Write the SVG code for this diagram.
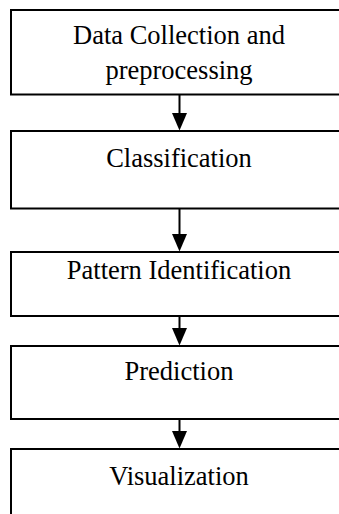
<svg xmlns="http://www.w3.org/2000/svg" width="339" height="514" viewBox="0 0 339 514">
<style>
.box{fill:#fff;stroke:#000;stroke-width:2}
.t{font-family:"Liberation Serif","Times New Roman",serif;font-size:26.5px;fill:#000;text-anchor:middle}
.c{stroke:#000;stroke-width:2;fill:none}
.h{fill:#000}
</style>
<rect width="339" height="514" fill="#fff"/>
<g id="n1"><rect class="box" x="11" y="10" width="338" height="84.5"/>
<text class="t" x="179" y="43.5">Data Collection and</text>
<text class="t" x="179" y="78.5">preprocessing</text></g>
<g id="n2"><rect class="box" x="11" y="131" width="338" height="77.5"/>
<text class="t" x="179" y="166.7">Classification</text></g>
<g id="n3"><rect class="box" x="11" y="252" width="338" height="64"/>
<text class="t" x="179" y="278.5">Pattern Identification</text></g>
<g id="n4"><rect class="box" x="11" y="346" width="338" height="73"/>
<text class="t" x="179" y="380">Prediction</text></g>
<g id="n5"><rect class="box" x="11" y="449" width="338" height="80"/>
<text class="t" x="179" y="485">Visualization</text></g>
<g id="connectors">
<path d="M179.5,95 V113" class="c"/>
<polygon class="h" points="172,113 187,113 179.5,130.5"/>
<path d="M179.5,209 V234" class="c"/>
<polygon class="h" points="172,234 187,234 179.5,251.5"/>
<path d="M179.5,317 V328" class="c"/>
<polygon class="h" points="172,328 187,328 179.5,345.5"/>
<path d="M179.5,420 V431" class="c"/>
<polygon class="h" points="172,431 187,431 179.5,448.5"/>
</g>
</svg>
